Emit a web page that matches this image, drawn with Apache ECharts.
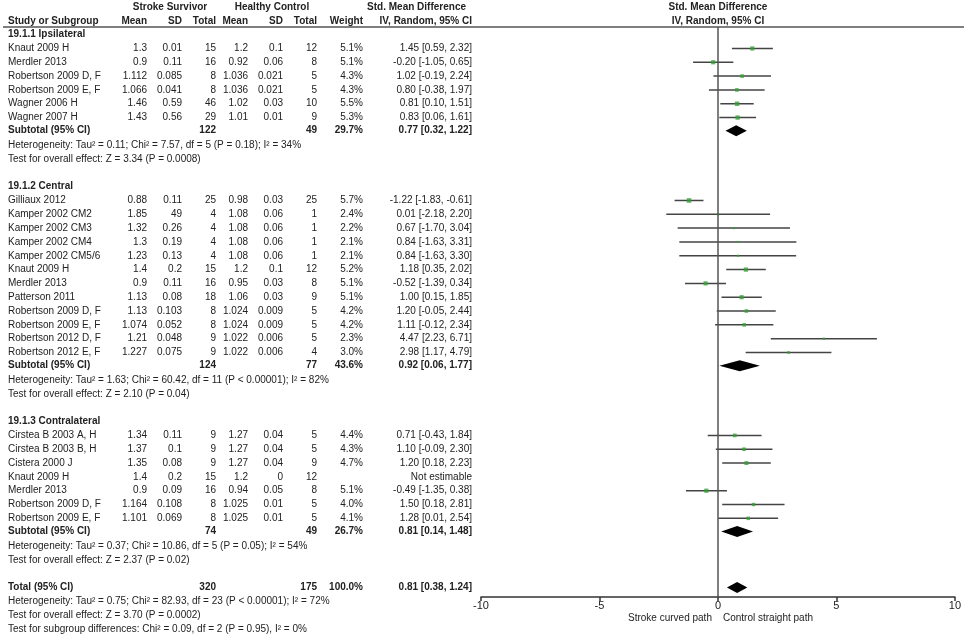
<!DOCTYPE html>
<html>
<head>
<meta charset="utf-8">
<script src="https://cdn.jsdelivr.net/npm/echarts@6/dist/echarts.min.js"></script>
<style>
html, body { margin: 0; padding: 0; background: #fff; }
#chart { width: 964px; height: 636px; }
</style>
</head>
<body>
<div id="chart"></div>
<script>
// ---- data ----
const groupNames = ['19.1.1 Ipsilateral', '19.1.2 Central', '19.1.3 Contralateral'];
const studyGroup = [0, 0, 0, 0, 0, 0,
    1, 1, 1, 1, 1, 1, 1, 1, 1, 1, 1, 1,
    2, 2, 2, 2, 2, 2, 2];
const studyNames = ['Knaut 2009 H', 'Merdler 2013', 'Robertson 2009 D, F', 'Robertson 2009 E, F', 'Wagner 2006 H', 'Wagner 2007 H',
    'Gilliaux 2012', 'Kamper 2002 CM2', 'Kamper 2002 CM3', 'Kamper 2002 CM4', 'Kamper 2002 CM5/6', 'Knaut 2009 H',
    'Merdler 2013', 'Patterson 2011', 'Robertson 2009 D, F', 'Robertson 2009 E, F', 'Robertson 2012 D, F', 'Robertson 2012 E, F',
    'Cirstea B 2003 A, H', 'Cirstea B 2003 B, H', 'Cistera 2000 J', 'Knaut 2009 H', 'Merdler 2013', 'Robertson 2009 D, F', 'Robertson 2009 E, F'];
const ssMean = [1.3, 0.9, 1.112, 1.066, 1.46, 1.43,
    0.88, 1.85, 1.32, 1.3, 1.23, 1.4, 0.9, 1.13, 1.13, 1.074, 1.21, 1.227,
    1.34, 1.37, 1.35, 1.4, 0.9, 1.164, 1.101];
const ssSD = [0.01, 0.11, 0.085, 0.041, 0.59, 0.56,
    0.11, 49, 0.26, 0.19, 0.13, 0.2, 0.11, 0.08, 0.103, 0.052, 0.048, 0.075,
    0.11, 0.1, 0.08, 0.2, 0.09, 0.108, 0.069];
const ssTotal = [15, 16, 8, 8, 46, 29,
    25, 4, 4, 4, 4, 15, 16, 18, 8, 8, 9, 9,
    9, 9, 9, 15, 16, 8, 8];
const hcMean = [1.2, 0.92, 1.036, 1.036, 1.02, 1.01,
    0.98, 1.08, 1.08, 1.08, 1.08, 1.2, 0.95, 1.06, 1.024, 1.024, 1.022, 1.022,
    1.27, 1.27, 1.27, 1.2, 0.94, 1.025, 1.025];
const hcSD = [0.1, 0.06, 0.021, 0.021, 0.03, 0.01,
    0.03, 0.06, 0.06, 0.06, 0.06, 0.1, 0.03, 0.03, 0.009, 0.009, 0.006, 0.006,
    0.04, 0.04, 0.04, 0, 0.05, 0.01, 0.01];
const hcTotal = [12, 8, 5, 5, 10, 9,
    25, 1, 1, 1, 1, 12, 8, 9, 5, 5, 5, 4,
    5, 5, 9, 12, 8, 5, 5];
const weights = [5.1, 5.1, 4.3, 4.3, 5.5, 5.3,
    5.7, 2.4, 2.2, 2.1, 2.1, 5.2, 5.1, 5.1, 4.2, 4.2, 2.3, 3.0,
    4.4, 4.3, 4.7, null, 5.1, 4.0, 4.1];
const smd = [1.45, -0.20, 1.02, 0.80, 0.81, 0.83,
    -1.22, 0.01, 0.67, 0.84, 0.84, 1.18, -0.52, 1.00, 1.20, 1.11, 4.47, 2.98,
    0.71, 1.10, 1.20, null, -0.49, 1.50, 1.28];
const ciLow = [0.59, -1.05, -0.19, -0.38, 0.10, 0.06,
    -1.83, -2.18, -1.70, -1.63, -1.63, 0.35, -1.39, 0.15, -0.05, -0.12, 2.23, 1.17,
    -0.43, -0.09, 0.18, null, -1.35, 0.18, 0.01];
const ciHigh = [2.32, 0.65, 2.24, 1.97, 1.51, 1.61,
    -0.61, 2.20, 3.04, 3.31, 3.30, 2.02, 0.34, 1.85, 2.44, 2.34, 6.71, 4.79,
    1.84, 2.30, 2.23, null, 0.38, 2.81, 2.54];

const subSS = [122, 124, 74];
const subHC = [49, 77, 49];
const subWeight = [29.7, 43.6, 26.7];
const subSmd = [0.77, 0.92, 0.81];
const subLow = [0.32, 0.06, 0.14];
const subHigh = [1.22, 1.77, 1.48];
const subHet = [
    'Heterogeneity: Tau² = 0.11; Chi² = 7.57, df = 5 (P = 0.18); I² = 34%',
    'Heterogeneity: Tau² = 1.63; Chi² = 60.42, df = 11 (P < 0.00001); I² = 82%',
    'Heterogeneity: Tau² = 0.37; Chi² = 10.86, df = 5 (P = 0.05); I² = 54%'
];
const subTest = [
    'Test for overall effect: Z = 3.34 (P = 0.0008)',
    'Test for overall effect: Z = 2.10 (P = 0.04)',
    'Test for overall effect: Z = 2.37 (P = 0.02)'
];

const totalSS = 320, totalHC = 175, totalWeight = 100.0;
const totalSmd = 0.81, totalLow = 0.38, totalHigh = 1.24;
const totalNotes = [
    'Heterogeneity: Tau² = 0.75; Chi² = 82.93, df = 23 (P < 0.00001); I² = 72%',
    'Test for overall effect: Z = 3.70 (P = 0.0002)',
    'Test for subgroup differences: Chi² = 0.09, df = 2 (P = 0.95), I² = 0%'
];

const xTicks = { min: -10, max: 10, interval: 5 };
const favoursLeft = 'Stroke curved path';
const favoursRight = 'Control straight path';

// ---- layout ----
const ROW_TOP = 7, ROW_H = 13.82;     // pixel y of row 0, row pitch
const GRID_TOP = 27, GRID_BOTTOM = 597;
const FONT_FAMILY = '"Liberation Sans", Arial, sans-serif';
const FONT = '10px ' + FONT_FAMILY;
const BOLD = 'bold 10px ' + FONT_FAMILY;
const TEXT = '#222';
const COL = { name: 8, m1: 147, sd1: 182, n1: 216, m2: 248, sd2: 283, n2: 317, w: 363, ci: 472 };

const f2 = v => v.toFixed(2);
const ciText = (s, l, h) => f2(s) + ' [' + f2(l) + ', ' + f2(h) + ']';

// build the text table row by row
const lines = [];
const studyRow = [];
const subRow = [];
function line(row, cells, bold) { lines.push({ row: row, cells: cells, bold: !!bold }); }

line(0, [
    { t: 'Stroke Survivor', x: 170, a: 'center' },
    { t: 'Healthy Control', x: 272, a: 'center' },
    { t: 'Std. Mean Difference', x: 466, a: 'right' },
    { t: 'Std. Mean Difference', d: 0, x: 0, a: 'center' }
], true);
line(1, [
    { t: 'Study or Subgroup', x: COL.name, a: 'left' },
    { t: 'Mean', x: COL.m1, a: 'right' },
    { t: 'SD', x: COL.sd1, a: 'right' },
    { t: 'Total', x: COL.n1, a: 'right' },
    { t: 'Mean', x: COL.m2, a: 'right' },
    { t: 'SD', x: COL.sd2, a: 'right' },
    { t: 'Total', x: COL.n2, a: 'right' },
    { t: 'Weight', x: COL.w, a: 'right' },
    { t: 'IV, Random, 95% CI', x: COL.ci, a: 'right' },
    { t: 'IV, Random, 95% CI', d: 0, x: 0, a: 'center' }
], true);

let r = 2;
groupNames.forEach((g, gi) => {
    line(r++, [{ t: g, x: COL.name, a: 'left' }], true);
    studyNames.forEach((name, i) => {
        if (studyGroup[i] !== gi) return;
        studyRow[i] = r;
        line(r++, [
            { t: name, x: COL.name, a: 'left' },
            { t: String(ssMean[i]), x: COL.m1, a: 'right' },
            { t: String(ssSD[i]), x: COL.sd1, a: 'right' },
            { t: String(ssTotal[i]), x: COL.n1, a: 'right' },
            { t: String(hcMean[i]), x: COL.m2, a: 'right' },
            { t: String(hcSD[i]), x: COL.sd2, a: 'right' },
            { t: String(hcTotal[i]), x: COL.n2, a: 'right' },
            { t: weights[i] == null ? '' : weights[i].toFixed(1) + '%', x: COL.w, a: 'right' },
            { t: smd[i] == null ? 'Not estimable' : ciText(smd[i], ciLow[i], ciHigh[i]), x: COL.ci, a: 'right' }
        ]);
    });
    subRow[gi] = r - 0.05;
    line(r++ - 0.05, [
        { t: 'Subtotal (95% CI)', x: COL.name, a: 'left' },
        { t: String(subSS[gi]), x: COL.n1, a: 'right' },
        { t: String(subHC[gi]), x: COL.n2, a: 'right' },
        { t: subWeight[gi].toFixed(1) + '%', x: COL.w, a: 'right' },
        { t: ciText(subSmd[gi], subLow[gi], subHigh[gi]), x: COL.ci, a: 'right' }
    ], true);
    line(r++, [{ t: subHet[gi], x: COL.name, a: 'left' }]);
    line(r++, [{ t: subTest[gi], x: COL.name, a: 'left' }]);
    r++;
});
const totalRow = r;
line(r++, [
    { t: 'Total (95% CI)', x: COL.name, a: 'left' },
    { t: String(totalSS), x: COL.n1, a: 'right' },
    { t: String(totalHC), x: COL.n2, a: 'right' },
    { t: totalWeight.toFixed(1) + '%', x: COL.w, a: 'right' },
    { t: ciText(totalSmd, totalLow, totalHigh), x: COL.ci, a: 'right' }
], true);
totalNotes.forEach(n => line(r++, [{ t: n, x: COL.name, a: 'left' }]));
// favours captions under the axis
line(totalRow + 2.2, [
    { t: favoursLeft, d: 0, x: -6, a: 'right' },
    { t: favoursRight, d: 0, x: 5, a: 'left' }
]);

// ---- series data ----
const ciData = [], squareData = [];
studyNames.forEach((n, i) => {
    if (smd[i] == null) return;
    ciData.push([ciLow[i], ciHigh[i], studyRow[i]]);
    squareData.push([smd[i], studyRow[i], weights[i]]);
});
const diamondData = subSmd.map((s, gi) => [s, subLow[gi], subHigh[gi], subRow[gi]]);
diamondData.push([totalSmd, totalLow, totalHigh, totalRow]);

const chart = echarts.init(document.getElementById('chart'));

chart.setOption({
    animation: false,
    backgroundColor: '#fff',
    grid: { left: 481, right: 9, top: GRID_TOP, bottom: 636 - GRID_BOTTOM },
    xAxis: {
        type: 'value',
        min: xTicks.min, max: xTicks.max, interval: xTicks.interval,
        splitLine: { show: false },
        axisLine: { lineStyle: { color: '#333', width: 1.5 } },
        axisTick: { length: 4, lineStyle: { color: '#333', width: 1.5 } },
        axisLabel: { color: TEXT, fontSize: 11, fontFamily: FONT_FAMILY, margin: 3 }
    },
    yAxis: {
        type: 'value',
        inverse: true,
        show: false,
        min: (GRID_TOP - ROW_TOP) / ROW_H,
        max: (GRID_BOTTOM - ROW_TOP) / ROW_H
    },
    graphic: [{
        type: 'line',
        shape: { x1: 3, y1: GRID_TOP, x2: 964, y2: GRID_TOP },
        style: { stroke: '#555', lineWidth: 1.5 }
    }],
    series: [
        {
            type: 'custom',
            name: 'ci',
            data: ciData,
            encode: { x: [0, 1], y: 2 },
            renderItem: (params, api) => {
                const p1 = api.coord([api.value(0), api.value(2)]);
                const p2 = api.coord([api.value(1), api.value(2)]);
                return {
                    type: 'line',
                    shape: { x1: p1[0], y1: p1[1], x2: p2[0], y2: p2[1] },
                    style: { stroke: '#444', lineWidth: 1.5 }
                };
            },
            markLine: {
                silent: true,
                symbol: 'none',
                label: { show: false },
                lineStyle: { color: '#555', width: 1.5, type: 'solid' },
                data: [{ xAxis: 0 }]
            }
        },
        {
            type: 'scatter',
            name: 'smd',
            data: squareData,
            symbol: 'rect',
            symbolSize: v => 0.6 + v[2] * 0.7,
            itemStyle: { color: '#34a034' },
            z: 3
        },
        {
            type: 'custom',
            name: 'pooled',
            data: diamondData,
            encode: { x: [0, 1, 2], y: 3 },
            renderItem: (params, api) => {
                const row = api.value(3);
                const c = api.coord([api.value(0), row]);
                const l = api.coord([api.value(1), row]);
                const h = api.coord([api.value(2), row]);
                const hh = 5.5;
                return {
                    type: 'polygon',
                    shape: { points: [[l[0], c[1]], [c[0], c[1] - hh], [h[0], c[1]], [c[0], c[1] + hh]] },
                    style: { fill: '#000' }
                };
            },
            z: 4
        },
        {
            type: 'custom',
            name: 'table',
            clip: false,
            data: lines.map((l, i) => [0, l.row, i]),
            encode: { x: 0, y: 1 },
            renderItem: (params, api) => {
                const ln = lines[api.value(2)];
                const y = api.coord([0, api.value(1)])[1];
                return {
                    type: 'group',
                    children: ln.cells.map(c => ({
                        type: 'text',
                        style: {
                            x: c.d == null ? c.x : api.coord([c.d, 0])[0] + c.x,
                            y: y,
                            text: c.t,
                            align: c.a,
                            verticalAlign: 'middle',
                            font: ln.bold ? BOLD : FONT,
                            fill: TEXT
                        }
                    }))
                };
            }
        }
    ]
});
</script>
</body>
</html>
